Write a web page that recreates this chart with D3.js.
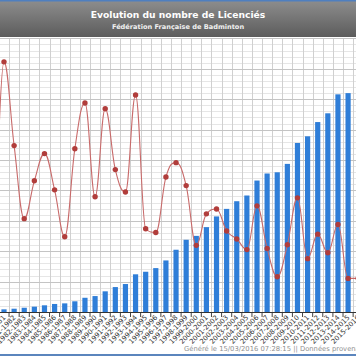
<!DOCTYPE html>
<html><head><meta charset="utf-8">
<script src="https://cdnjs.cloudflare.com/ajax/libs/d3/7.8.5/d3.min.js"></script>
<style>html,body{margin:0;padding:0;background:#fff;}svg{display:block;}</style>
</head><body>
<script>
const categories = ["1979-1980","1980-1981","1981-1982","1982-1983","1983-1984","1984-1985","1985-1986","1986-1987","1987-1988","1988-1989","1989-1990","1990-1991","1991-1992","1992-1993","1993-1994","1994-1995","1995-1996","1996-1997","1997-1998","1998-1999","1999-2000","2000-2001","2001-2002","2002-2003","2003-2004","2004-2005","2005-2006","2006-2007","2007-2008","2008-2009","2009-2010","2010-2011","2011-2012","2012-2013","2013-2014","2014-2015","2015-2016"];
const licencies = [null,2200,2700,3500,4400,5500,6600,7100,8800,11700,13100,17000,20500,23000,31000,33100,36100,42400,51200,59400,62600,69800,78600,84800,91100,95800,108100,113900,114900,121800,139000,144500,156200,163400,179000,180000,null];
const evolution = [0,41.2,25.5,11.8,18.9,24.0,17.2,8.4,24.9,33.5,15.9,32.4,21.0,16.8,35.0,9.9,9.2,19.6,22.3,18.0,6.8,12.7,13.6,9.5,8.0,6.0,14.2,6.2,0.9,6.9,15.7,4.3,8.9,5.4,10.7,0.6,0.6];
const title = "Evolution du nombre de Licenciés";
const subtitle = "Fédération Française de Badminton";
const footer = "Généré le 15/03/2016 07:28:15 || Données provenant de";

// Spline curve (smoothing 1.5, horizontal tangents at extrema)
function SplineCurve(context){ this._context = context; }
SplineCurve.prototype = {
  areaStart(){}, areaEnd(){},
  lineStart(){ this._pts = []; },
  point(x, y){ this._pts.push([+x, +y]); },
  lineEnd(){
    const p = this._pts, n = p.length, c = this._context, s = 1.5, den = s + 1;
    if (!n) return;
    const L = [], R = [];
    for (let i = 0; i < n; i++) {
      if (i === 0 || i === n - 1) { L[i] = [p[i][0], p[i][1]]; R[i] = [p[i][0], p[i][1]]; continue; }
      const [px, py] = p[i], [lx, ly] = p[i-1], [nx, ny] = p[i+1];
      let lcx = (s*px + lx)/den, lcy = (s*py + ly)/den;
      let rcx = (s*px + nx)/den, rcy = (s*py + ny)/den;
      if (rcx !== lcx) {
        const corr = ((rcy - lcy)*(rcx - px))/(rcx - lcx) + py - rcy;
        lcy += corr; rcy += corr;
      }
      if ((py > ly && py > ny) || (py < ly && py < ny)) { lcy = py; rcy = py; }
      else {
        if (lcy > ly && lcy > py) { lcy = Math.max(ly, py); rcy = 2*py - lcy; }
        else if (lcy < ly && lcy < py) { lcy = Math.min(ly, py); rcy = 2*py - lcy; }
        if (rcy > ny && rcy > py) { rcy = Math.max(ny, py); lcy = 2*py - rcy; }
        else if (rcy < ny && rcy < py) { rcy = Math.min(ny, py); lcy = 2*py - rcy; }
      }
      L[i] = [lcx, lcy]; R[i] = [rcx, rcy];
    }
    c.moveTo(p[0][0], p[0][1]);
    for (let i = 1; i < n; i++) {
      c.bezierCurveTo(R[i-1][0], R[i-1][1], L[i][0], L[i][1], p[i][0], p[i][1]);
    }
  }
};
const curveSpline = ctx => new SplineCurve(ctx);

const W = 356, H = 364;
const svg = d3.select("body").append("svg").attr("width", W).attr("height", H);
const defs = svg.append("defs");
const g1 = defs.append("linearGradient").attr("id","hdr").attr("x1",0).attr("y1",0).attr("x2",0).attr("y2",1);
g1.append("stop").attr("offset","0%").attr("stop-color","#8e8e8e");
g1.append("stop").attr("offset","100%").attr("stop-color","#5c5c5c");

// header
svg.append("rect").attr("x",0).attr("y",0).attr("width",W).attr("height",37).attr("fill","url(#hdr)");
svg.append("rect").attr("x",0).attr("y",0).attr("width",W).attr("height",1.5).attr("fill","#4f7fbf");
svg.append("text").attr("x",178).attr("y",18).attr("text-anchor","middle")
  .attr("font-family","DejaVu Sans, sans-serif").attr("font-weight","bold").attr("font-size",9.2)
  .attr("fill","#ffffff").text(title);
svg.append("text").attr("x",178).attr("y",29).attr("text-anchor","middle")
  .attr("font-family","DejaVu Sans, sans-serif").attr("font-weight","bold").attr("font-size",6.6)
  .attr("fill","#f0f0f0").text(subtitle);

const plotTop = 38.4, plotBottom = 312;
const step = 10.12;
const x0 = 4 - step - step/2;
const x = d3.scaleBand().domain(categories).range([x0, x0 + step*categories.length]).paddingInner(0).paddingOuter(0);
const yBar = d3.scaleLinear().domain([0, 225000]).range([plotBottom, plotTop]);
const yLine = d3.scaleLinear().domain([-5.7, 45.6]).range([plotBottom, plotTop]);

const plot = svg.append("g");
const minor = d3.range(0, 225001, 5000);
plot.append("g").selectAll("line").data(minor).join("line")
  .attr("x1",0).attr("x2",W).attr("y1",d=>Math.round(yBar(d))+0.5).attr("y2",d=>Math.round(yBar(d))+0.5)
  .attr("stroke","#e6e6e6").attr("stroke-width",1);
plot.append("g").selectAll("line").data(categories).join("line")
  .attr("x1",d=>Math.round(x(d))+0.5).attr("x2",d=>Math.round(x(d))+0.5)
  .attr("y1",plotTop).attr("y2",plotBottom)
  .attr("stroke","#d0d0d0").attr("stroke-width",1);
const major = d3.range(25000, 225001, 25000);
plot.append("g").selectAll("line").data(major).join("line")
  .attr("x1",0).attr("x2",W).attr("y1",d=>Math.round(yBar(d))+0.5).attr("y2",d=>Math.round(yBar(d))+0.5)
  .attr("stroke","#c4c4c4").attr("stroke-width",1);

// bars
const bw = 5.2;
plot.append("g").selectAll("rect").data(categories.map((c,i)=>({c, v:licencies[i]})).filter(d=>d.v!=null)).join("rect")
  .attr("x",d=>x(d.c)+x.bandwidth()/2-bw/2).attr("width",bw)
  .attr("y",d=>yBar(d.v)).attr("height",d=>yBar(0)-yBar(d.v))
  .attr("fill","#2f7ed8");

// line
const pts = categories.map((c,i)=>({c, v:evolution[i]}));
const line = d3.line().x(d=>x(d.c)+x.bandwidth()/2).y(d=>yLine(d.v)).curve(curveSpline);
plot.append("path").datum(pts).attr("d",line).attr("fill","none")
  .attr("stroke","#c86a6a").attr("stroke-width",1.1);
plot.append("g").selectAll("circle").data(pts).join("circle")
  .attr("cx",d=>x(d.c)+x.bandwidth()/2).attr("cy",d=>yLine(d.v)).attr("r",2.7)
  .attr("fill","#b13d3b");

// x axis
const xAxis = d3.axisBottom(x).tickSize(0).tickPadding(0);
const ax = svg.append("g").attr("transform",`translate(0,${plotBottom})`).call(xAxis);
ax.select(".domain").remove();
ax.append("line").attr("x1",0).attr("x2",W).attr("y1",0.5).attr("y2",0.5).attr("stroke","#333").attr("stroke-width",1);
ax.selectAll(".tick").each(function(d){
  d3.select(this).append("line").attr("x1",-step/2).attr("x2",-step/2).attr("y1",0).attr("y2",5).attr("stroke","#444");
});
ax.selectAll(".tick text")
  .attr("font-family","DejaVu Sans, sans-serif").attr("font-size",6.8).attr("fill","#333")
  .attr("text-anchor","end").attr("dy",0)
  .attr("transform","translate(2,6) rotate(-45)");

// footer
svg.append("text").attr("x",184).attr("y",351).attr("font-family","DejaVu Sans, sans-serif")
  .attr("font-size",6.8).attr("fill","#909090").text(footer);
svg.append("rect").attr("x",0).attr("y",354).attr("width",W).attr("height",2).attr("fill","#5b85bd");
</script>
</body></html>
